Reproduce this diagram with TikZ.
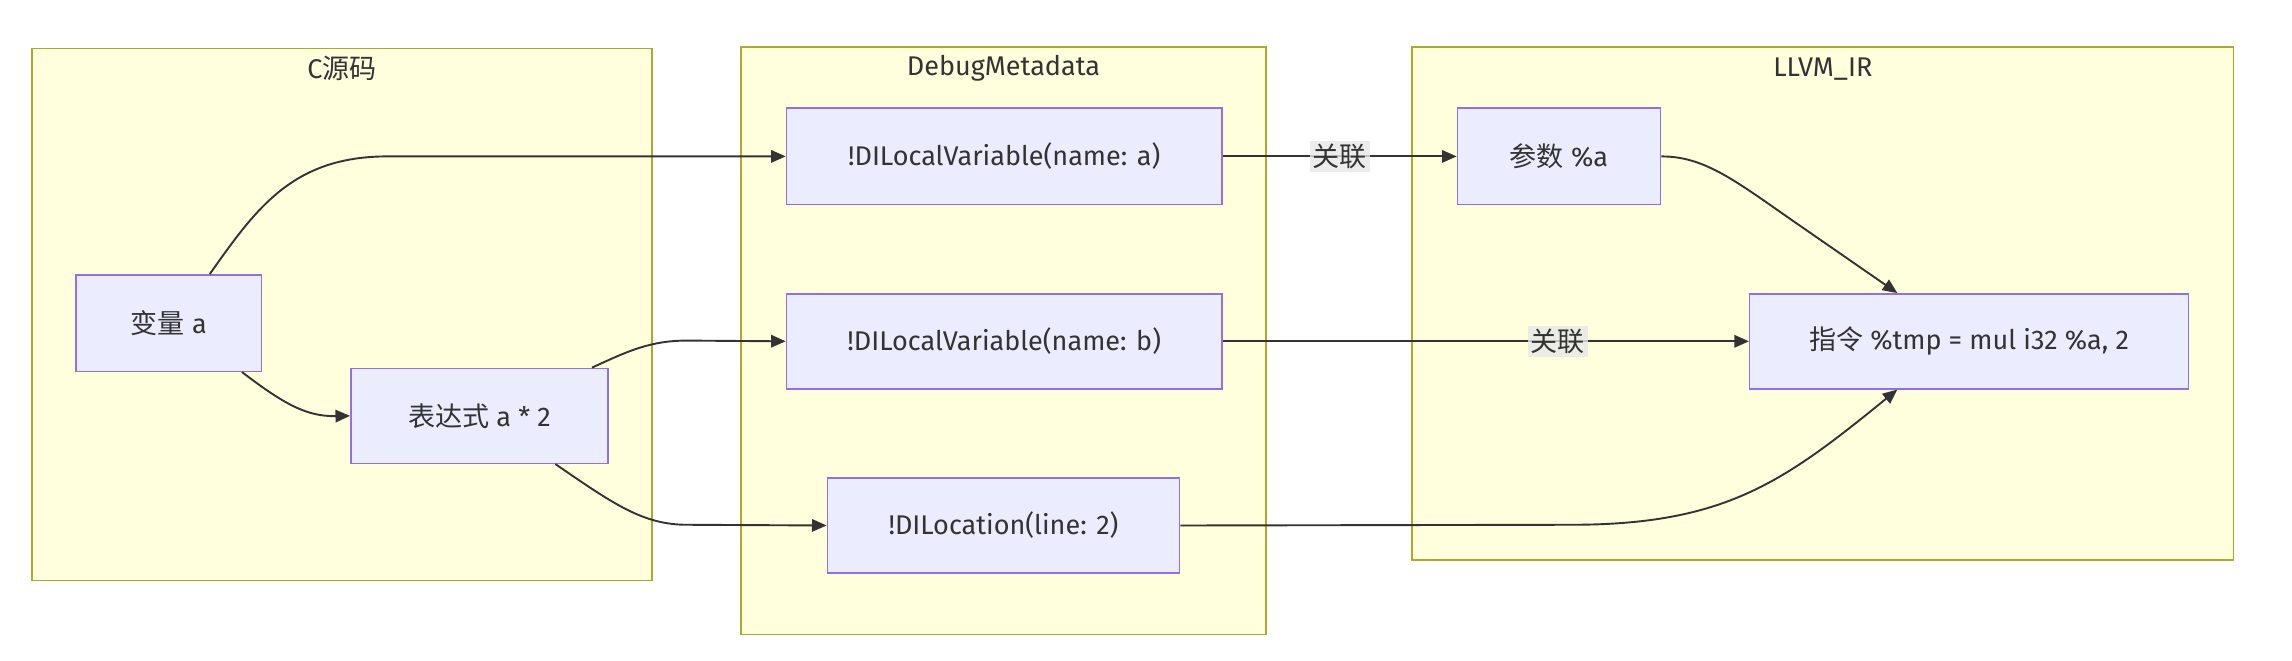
\documentclass[tikz,border=0pt]{standalone}
\usepackage{fontspec}
\setmainfont{Fira Sans}
\newfontfamily\cjk{Noto Sans CJK SC}
\usetikzlibrary{arrows.meta,calc}
\definecolor{clfill}{HTML}{FFFFDE}
\definecolor{cldraw}{HTML}{AAAA33}
\definecolor{ndfill}{HTML}{ECECFF}
\definecolor{nddraw}{HTML}{9370DB}
\definecolor{edgec}{HTML}{333333}
\definecolor{lblc}{HTML}{E8E8E8}
\begin{document}
\begin{tikzpicture}[x=1pt,y=-1pt,
  cluster/.style={draw=cldraw,fill=clfill,line width=1pt},
  box/.style={draw=nddraw,fill=ndfill,line width=1pt,inner sep=0pt,text=edgec,font=\fontsize{18.5}{22}\selectfont},
  ttl/.style={text=edgec,font=\fontsize{18.5}{22}\selectfont},
  conn/.style={draw=edgec,line width=1.3pt,-{Triangle[length=10pt,width=8.5pt]}},
  lab/.style={fill=lblc,fill opacity=0.8,text opacity=1,text=edgec,inner sep=2pt,font={\cjk\fontsize{18.5}{22}\selectfont}}
]
\useasboundingbox[fill=white] (0,0) rectangle (1568,452);
% clusters
\draw[cluster] (22,33) rectangle (446,397);
\draw[cluster] (507,32) rectangle (866,434);
\draw[cluster] (966,32) rectangle (1528,383);
\node[ttl] (tc) at (234,47) {C{\cjk 源码}};
\node[ttl] (td) at (686.5,47) {DebugMetadata};
\node[ttl] (tl) at (1247,47) {LLVM\_IR};
% nodes
\node[box,minimum width=127pt,minimum height=66pt] (va) at (115.5,221) {{\cjk 变量} a};
\node[box,minimum width=176pt,minimum height=65pt] (bx) at (328,284.5) {{\cjk 表达式} a * 2};
\node[box,minimum width=298pt,minimum height=66pt] (dia) at (687,107) {!DILocalVariable(name: a)};
\node[box,minimum width=298pt,minimum height=65pt] (dib) at (687,233.5) {!DILocalVariable(name: b)};
\node[box,minimum width=241pt,minimum height=65pt] (dil) at (686.5,359.5) {!DILocation(line: 2)};
\node[box,minimum width=139pt,minimum height=66pt] (pa) at (1066.5,107) {{\cjk 参数} \%a};
\node[box,minimum width=300pt,minimum height=65pt] (ins) at (1347,233.5) {{\cjk 指令} \%tmp = mul i32 \%a, 2};
% edges
\draw[conn] ([xshift=28pt]va.north) .. controls (175,143) and (200,107) .. (265,107) -- (dia.west);
\draw[conn] ([xshift=50pt]va.south) .. controls (195,277) and (210,285) .. (bx.west);
\draw[conn] ([xshift=77pt]bx.north) .. controls (430,240) and (445,233) .. (470,233) -- (dib.west);
\draw[conn] ([xshift=52pt]bx.south) .. controls (420,345) and (440,359) .. (470,359) -- (dil.west);
\draw[conn] (dia.east) -- node[lab] {关联} (pa.west);
\draw[conn] (dib.east) -- node[lab,pos=0.637] {关联} (ins.west);
\draw[conn] (pa.east) .. controls (1165,107) and (1185,122) .. (1225,150) -- ([xshift=-49pt]ins.north);
\draw[conn] (dil.east) -- (1075,359) .. controls (1180,359) and (1220,330) .. ([xshift=-49pt]ins.south);
\end{tikzpicture}
\end{document}
